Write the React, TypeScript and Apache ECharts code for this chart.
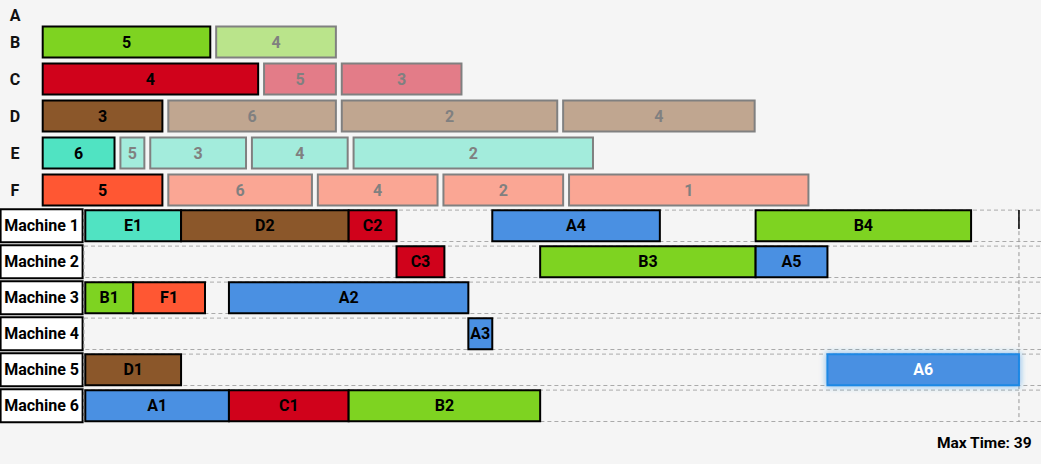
import React, { useEffect, useRef } from "react";
import * as echarts from "echarts";

// Jobs and their colours
const jobs = ["A", "B", "C", "D", "E", "F"];
const jobColors = ["#4a90e2", "#7ed321", "#d0021b", "#8b572a", "#50e3c2", "#ff5733"];

// Remaining (queued) operations per job: machine number and duration
const queueMachines: number[][] = [[], [5, 4], [4, 5, 3], [3, 6, 2, 4], [6, 5, 3, 4, 2], [5, 6, 4, 2, 1]];
const queueDurations: number[][] = [[], [7, 5], [9, 3, 5], [5, 7, 9, 8], [3, 1, 4, 4, 10], [5, 6, 5, 5, 10]];

// Scheduled operations
const machines = ["Machine 1", "Machine 2", "Machine 3", "Machine 4", "Machine 5", "Machine 6"];
const opLabels = ["E1", "D2", "C2", "A4", "B4", "C3", "B3", "A5", "B1", "F1", "A2", "A3", "D1", "A6", "A1", "C1", "B2"];
const opMachine = [0, 0, 0, 0, 0, 1, 1, 1, 2, 2, 2, 3, 4, 4, 5, 5, 5];
const opStart = [0, 4, 11, 17, 28, 13, 19, 28, 0, 2, 6, 16, 0, 31, 0, 6, 11];
const opEnd = [4, 11, 13, 24, 37, 15, 28, 31, 2, 5, 16, 17, 4, 39, 6, 11, 19];
const maxTime = 39;
const selectedOp = "A6";

const BG = "#f5f5f5";
const FONT = "Roboto";

function mix(hex: string, bg: string, t: number) {
  const p = (h: string) => [1, 3, 5].map((i) => parseInt(h.slice(i, i + 2), 16));
  const a = p(hex), b = p(bg);
  const c = a.map((v, i) => Math.round(v * t + b[i] * (1 - t)));
  return "#" + c.map((v) => v.toString(16).padStart(2, "0")).join("");
}

export default function App() {
  const ref = useRef<HTMLDivElement>(null);
  useEffect(() => {
    if (!ref.current) return;
    const chart = echarts.init(ref.current, undefined, { renderer: "svg" });

    const queueData: any[] = [];
    jobs.forEach((_, j) => {
      let cum = 0;
      queueDurations[j].forEach((d, k) => {
        queueData.push({ value: [cum, cum + d, j, k, queueMachines[j][k]] });
        cum += d;
      });
    });

    const opData = opLabels.map((l, i) => ({
      value: [opStart[i], opEnd[i], opMachine[i], jobs.indexOf(l[0]), i],
    }));

    const unit = 23.94;
    const gap = 5.9;
    const barH = 31;
    const fs = 16;

    const option: any = {
      animation: false,
      backgroundColor: BG,
      textStyle: { fontFamily: FONT },
      grid: [
        { left: 42.7, top: -13.5, height: 222, width: maxTime * unit, containLabel: false, outerBoundsMode: "none" },
        { left: 85.3, top: 207.8, height: 216, width: maxTime * unit, containLabel: false, outerBoundsMode: "none" },
      ],
      xAxis: [
        { type: "value", gridIndex: 0, min: 0, max: maxTime, show: false },
        { type: "value", gridIndex: 1, min: 0, max: maxTime, show: false },
      ],
      yAxis: [
        {
          type: "category",
          gridIndex: 0,
          data: jobs,
          inverse: true,
          axisLine: { show: false },
          axisTick: { show: false },
          splitLine: { show: false },
          axisLabel: {
            align: "center",
            margin: 27.7,
            formatter: (v: string) => (v === "A" ? "{a|" + v + "}" : "{n|" + v + "}"),
            rich: {
              a: { fontFamily: FONT, fontWeight: "bold", fontSize: fs, color: "#111", padding: [20, 0, 0, 0] },
              n: { fontFamily: FONT, fontWeight: "bold", fontSize: fs, color: "#111" },
            },
          },
        },
        {
          type: "category",
          gridIndex: 1,
          data: machines,
          inverse: true,
          axisLine: { show: false },
          axisTick: { show: false },
          splitLine: { show: false },
          axisLabel: {
            align: "center",
            margin: 43.7,
            formatter: (v: string) => "{b|" + v + "}",
            rich: {
              b: {
                fontFamily: FONT,
                fontWeight: "bold",
                fontSize: fs,
                color: "#000",
                width: 80,
                height: 31,
                lineHeight: 31,
                align: "center",
                backgroundColor: "#ffffff",
                borderColor: "#000",
                borderWidth: 2,
              },
            },
          },
        },
      ],
      graphic: [
        {
          type: "text",
          right: 9,
          top: 435,
          style: {
            text: "Max Time: " + maxTime,
            fontFamily: FONT,
            fontWeight: "bold",
            fontSize: 15.5,
            fill: "#000",
          },
        },
      ],
      series: [
        {
          type: "custom",
          xAxisIndex: 0,
          yAxisIndex: 0,
          data: queueData,
          renderItem: (params: any, api: any) => {
            const s = api.value(0), e = api.value(1), j = api.value(2), k = api.value(3), m = api.value(4);
            const p0 = api.coord([s, j]);
            const p1 = api.coord([e, j]);
            const x = p0[0] + k * gap;
            const w = p1[0] - p0[0];
            const y = p0[1] - barH / 2;
            const first = k === 0;
            const fill = first ? jobColors[j] : mix(jobColors[j], BG, 0.5);
            const ink = first ? "#000" : "#808080";
            return {
              type: "group",
              children: [
                { type: "rect", shape: { x, y, width: w, height: barH }, style: { fill, stroke: ink, lineWidth: 2 } },
                {
                  type: "text",
                  x: x + w / 2,
                  y: y + barH / 2,
                  style: {
                    text: String(m),
                    fill: ink,
                    fontFamily: FONT,
                    fontWeight: "bold",
                    fontSize: fs,
                    align: "center",
                    verticalAlign: "middle",
                  },
                },
              ],
            };
          },
        },
        {
          type: "custom",
          xAxisIndex: 1,
          yAxisIndex: 1,
          data: machines.map((_, i) => ({ value: [0, i] })),
          z: 1,
          renderItem: (params: any, api: any) => {
            const p = api.coord([0, api.value(1)]);
            const x = p[0] - 1.3;
            return {
              type: "rect",
              shape: { x, y: p[1] - 15.7, width: 1100 - x, height: 31.4 },
              style: { fill: "none", stroke: "#aaaaaa", lineWidth: 1, lineDash: [4, 3] },
            };
          },
        },
        {
          type: "custom",
          xAxisIndex: 1,
          yAxisIndex: 1,
          data: [{ value: [maxTime, 0] }],
          z: 2,
          renderItem: (params: any, api: any) => {
            const pTop = api.coord([api.value(0), 0]);
            const pBot = api.coord([api.value(0), machines.length - 1]);
            const x = pTop[0];
            const y0 = pTop[1] - 15.7;
            const y1 = pBot[1] + 15.7;
            return {
              type: "group",
              children: [
                { type: "line", shape: { x1: x, y1: y0, x2: x, y2: y1 }, style: { stroke: "#999999", lineWidth: 1, lineDash: [4, 3] } },
                { type: "line", shape: { x1: x, y1: y0, x2: x, y2: y0 + 19 }, style: { stroke: "#000", lineWidth: 1.5 } },
              ],
            };
          },
        },
        {
          type: "custom",
          xAxisIndex: 1,
          yAxisIndex: 1,
          data: opData,
          z: 3,
          renderItem: (params: any, api: any) => {
            const s = api.value(0), e = api.value(1), m = api.value(2), j = api.value(3), i = api.value(4);
            const label = opLabels[i];
            const p0 = api.coord([s, m]);
            const p1 = api.coord([e, m]);
            const x = p0[0];
            const w = p1[0] - p0[0];
            const y = p0[1] - barH / 2;
            const sel = label === selectedOp;
            return {
              type: "group",
              children: [
                {
                  type: "rect",
                  shape: { x, y, width: w, height: barH },
                  style: sel
                    ? { fill: jobColors[j], stroke: "#1e88e5", lineWidth: 2, shadowBlur: 6, shadowColor: "rgba(30,136,229,0.6)" }
                    : { fill: jobColors[j], stroke: "#000", lineWidth: 2 },
                },
                {
                  type: "text",
                  x: x + w / 2,
                  y: y + barH / 2,
                  style: {
                    text: label,
                    fill: sel ? "#fff" : "#000",
                    fontFamily: FONT,
                    fontWeight: "bold",
                    fontSize: fs,
                    align: "center",
                    verticalAlign: "middle",
                  },
                },
              ],
            };
          },
        },
      ],
    };
    chart.setOption(option);
    return () => chart.dispose();
  }, []);
  return <div ref={ref} style={{ position: "fixed", left: 0, top: 0, width: 1041, height: 464 }} />;
}
